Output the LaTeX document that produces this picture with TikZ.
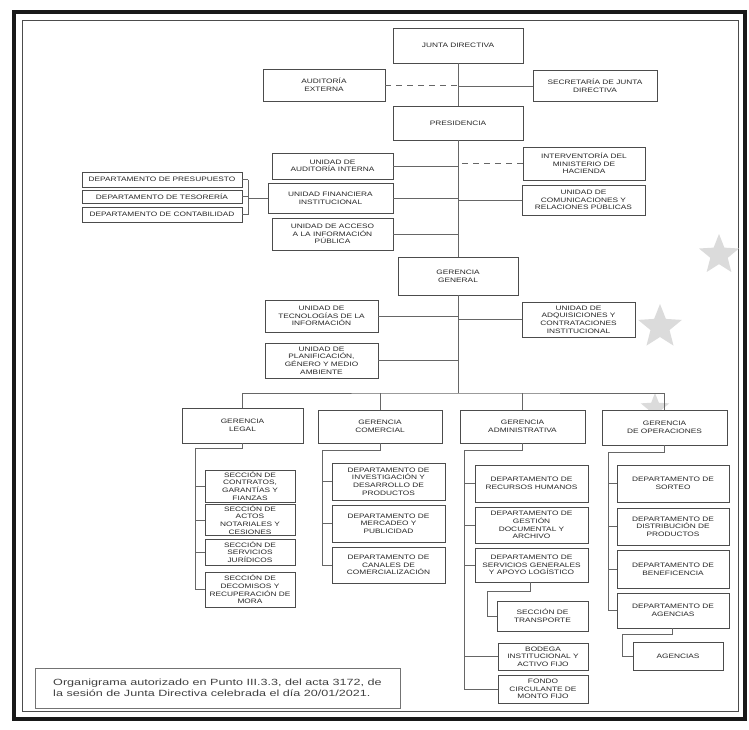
\documentclass[tikz,border=0pt]{standalone}
\usepackage{fontspec}
\newfontfamily\boxfont[FakeStretch=1.3]{Liberation Sans}
\newfontfamily\notefont[FakeStretch=1.4]{Liberation Sans}
\usetikzlibrary{shapes.geometric}
\tikzset{
  box/.style={draw=black!70, line width=0.8pt, fill=white, inner sep=1pt, align=center,
    text=black!85, font=\boxfont\fontsize{6.4}{7.6}\selectfont},
  conn/.style={draw=black!60, line width=0.8pt},
  dashconn/.style={conn, dash pattern=on 6pt off 5pt},
  deco/.style={star, star points=5, star point ratio=2.3, fill=black!14, draw=none, inner sep=0pt},
}
\begin{document}
\begin{tikzpicture}[x=1pt,y=-1pt]
\useasboundingbox (0,0) rectangle (749,729);
\fill[white] (0,0) rectangle (749,729);
% frame
\draw[line width=4pt, black!90] (14,12) rectangle (745,719);
\draw[line width=0.9pt, black!70] (22,20) rectangle (738,711);
% decorative stars
\node[deco, minimum size=42pt] (star1) at (719,255) {};
\node[deco, minimum size=46pt] (star2) at (660,327) {};
\node[deco, minimum size=30pt] (star3) at (655,408) {};

% level boxes
\node[box, minimum width=130, minimum height=35] (jd) at (458,45.5) {JUNTA DIRECTIVA};
\node[box, minimum width=122, minimum height=32] (ae) at (324,85) {AUDITORÍA\\EXTERNA};
\node[box, minimum width=124, minimum height=31] (sjd) at (595,86) {SECRETARÍA DE JUNTA\\DIRECTIVA};
\node[box, minimum width=130, minimum height=34] (pres) at (458,123) {PRESIDENCIA};
\node[box, minimum width=121, minimum height=26] (uai) at (332.5,166) {UNIDAD DE\\AUDITORÍA INTERNA};
\node[box, minimum width=125, minimum height=30] (ufi) at (330.5,198) {UNIDAD FINANCIERA\\INSTITUCIONAL};
\node[box, minimum width=121, minimum height=32] (uaip) at (332.5,234) {UNIDAD DE ACCESO\\A LA INFORMACIÓN\\PÚBLICA};
\node[box, minimum width=122, minimum height=33] (imh) at (584,163.5) {INTERVENTORÍA DEL\\MINISTERIO DE\\HACIENDA};
\node[box, minimum width=123, minimum height=30] (ucrp) at (583.5,200) {UNIDAD DE\\COMUNICACIONES Y\\RELACIONES PÚBLICAS};
\node[box, minimum width=160, minimum height=15] (dpre) at (162,179.5) {DEPARTAMENTO DE PRESUPUESTO};
\node[box, minimum width=160, minimum height=13] (dtes) at (162,196.5) {DEPARTAMENTO DE TESORERÍA};
\node[box, minimum width=160, minimum height=15] (dcon) at (162,214.5) {DEPARTAMENTO DE CONTABILIDAD};
\node[box, minimum width=120, minimum height=38] (gg) at (458,276) {GERENCIA\\GENERAL};
\node[box, minimum width=113, minimum height=32] (uti) at (321.5,316) {UNIDAD DE\\TECNOLOGÍAS DE LA\\INFORMACIÓN};
\node[box, minimum width=113, minimum height=35] (upg) at (321.5,360.5) {UNIDAD DE\\PLANIFICACIÓN,\\GÉNERO Y MEDIO\\AMBIENTE};
\node[box, minimum width=113, minimum height=35] (uaci) at (578.5,319.5) {UNIDAD DE\\ADQUISICIONES Y\\CONTRATACIONES\\INSTITUCIONAL};

% gerencias
\node[box, minimum width=121, minimum height=35] (gl) at (242.5,425.5) {GERENCIA\\LEGAL};
\node[box, minimum width=124, minimum height=33] (gc) at (380,426.5) {GERENCIA\\COMERCIAL};
\node[box, minimum width=125, minimum height=33] (ga) at (522.5,426.5) {GERENCIA\\ADMINISTRATIVA};
\node[box, minimum width=125, minimum height=35] (go) at (664.5,427.5) {GERENCIA\\DE OPERACIONES};

% legal
\node[box, minimum width=90, minimum height=32] (l1) at (250,486) {SECCIÓN DE\\CONTRATOS,\\GARANTÍAS Y\\FIANZAS};
\node[box, minimum width=90, minimum height=30] (l2) at (250,520) {SECCIÓN DE\\ACTOS\\NOTARIALES Y\\CESIONES};
\node[box, minimum width=90, minimum height=26] (l3) at (250,552) {SECCIÓN DE\\SERVICIOS\\JURÍDICOS};
\node[box, minimum width=90, minimum height=35] (l4) at (250,589.5) {SECCIÓN DE\\DECOMISOS Y\\RECUPERACIÓN DE\\MORA};
% comercial
\node[box, minimum width=113, minimum height=37] (c1) at (388.5,481.5) {DEPARTAMENTO DE\\INVESTIGACIÓN Y\\DESARROLLO DE\\PRODUCTOS};
\node[box, minimum width=113, minimum height=37] (c2) at (388.5,523.5) {DEPARTAMENTO DE\\MERCADEO Y\\PUBLICIDAD};
\node[box, minimum width=113, minimum height=36] (c3) at (388.5,565) {DEPARTAMENTO DE\\CANALES DE\\COMERCIALIZACIÓN};
% administrativa
\node[box, minimum width=113, minimum height=37] (a1) at (531.5,483.5) {DEPARTAMENTO DE\\RECURSOS HUMANOS};
\node[box, minimum width=113, minimum height=36] (a2) at (531.5,525) {DEPARTAMENTO DE\\GESTIÓN\\DOCUMENTAL Y\\ARCHIVO};
\node[box, minimum width=113, minimum height=34] (a3) at (531.5,565) {DEPARTAMENTO DE\\SERVICIOS GENERALES\\Y APOYO LOGÍSTICO};
\node[box, minimum width=91, minimum height=30] (a4) at (542.5,616) {SECCIÓN DE\\TRANSPORTE};
\node[box, minimum width=90, minimum height=27] (a5) at (543,656.5) {BODEGA\\INSTITUCIONAL Y\\ACTIVO FIJO};
\node[box, minimum width=90, minimum height=28] (a6) at (543,689) {FONDO\\CIRCULANTE DE\\MONTO FIJO};
% operaciones
\node[box, minimum width=112, minimum height=37] (o1) at (673,483.5) {DEPARTAMENTO DE\\SORTEO};
\node[box, minimum width=112, minimum height=37] (o2) at (673,526.5) {DEPARTAMENTO DE\\DISTRIBUCIÓN DE\\PRODUCTOS};
\node[box, minimum width=112, minimum height=38] (o3) at (673,569) {DEPARTAMENTO DE\\BENEFICENCIA};
\node[box, minimum width=112, minimum height=35] (o4) at (673,610.5) {DEPARTAMENTO DE\\AGENCIAS};
\node[box, minimum width=90, minimum height=28] (o5) at (678,656) {AGENCIAS};

% note
\node[draw=black!55, line width=0.6pt, minimum width=365, minimum height=40, align=left,
  text=black!75, font=\notefont\fontsize{9}{11}\selectfont, inner xsep=8pt] (note) at (217.5,688)
  {Organigrama autorizado en Punto III.3.3, del acta 3172, de\\la sesión de Junta Directiva celebrada el día 20/01/2021.};

% coordinates
\coordinate (bus) at (458,393);
\coordinate (db) at (248,197);
\coordinate (ls) at (195,448);
\coordinate (cs) at (322,450);
\coordinate (as) at (464,450);
\coordinate (os) at (608,452);
\coordinate (t1) at (530,591);
\coordinate (t2) at (487,591);
\coordinate (g1) at (672,634);
\coordinate (g2) at (622,634);

% trunk
\draw[conn] (jd.south) -- (pres.north);
\draw[conn] (pres.south) -- (gg.north);
\draw[conn] (gg.south) -- (bus);
\draw[dashconn] (ae.east) -- (ae.east -| jd.south);
\draw[conn] (sjd.west) -- (sjd.west -| jd.south);
\draw[conn] (uai.east) -- (uai.east -| pres.south);
\draw[dashconn] (imh.west) -- (imh.west -| pres.south);
\draw[conn] (ufi.east) -- (ufi.east -| pres.south);
\draw[conn] (ucrp.west) -- (ucrp.west -| pres.south);
\draw[conn] (uaip.east) -- (uaip.east -| pres.south);
\draw[conn] (uti.east) -- (uti.east -| gg.south);
\draw[conn] (uaci.west) -- (uaci.west -| gg.south);
\draw[conn] (upg.east) -- (upg.east -| gg.south);
% departments bracket
\draw[conn] (db |- dpre.east) -- (db |- dcon.east);
\draw[conn] (dpre.east) -- (db |- dpre.east);
\draw[conn] (dtes.east) -- (db |- dtes.east);
\draw[conn] (dcon.east) -- (db |- dcon.east);
\draw[conn] (ufi.west) -- (ufi.west -| db);
% bus
\draw[conn] (gl.north) |- (bus) -| (go.north);
\draw[conn] (gc.north) -- (gc.north |- bus);
\draw[conn] (ga.north) -- (ga.north |- bus);
% legal
\draw[conn] (gl.south) |- (ls) -- (ls |- l4.west);
\foreach \n in {l1,l2,l3,l4} \draw[conn] (ls |- \n.west) -- (\n.west);
% comercial
\draw[conn] (gc.south) |- (cs) -- (cs |- c3.west);
\foreach \n in {c1,c2,c3} \draw[conn] (cs |- \n.west) -- (\n.west);
% administrativa
\draw[conn] (ga.south) |- (as) -- (as |- a6.west);
\foreach \n in {a1,a2,a3,a5,a6} \draw[conn] (as |- \n.west) -- (\n.west);
\draw[conn] (t1 |- a3.south) -- (t1) -- (t2) |- (a4.west);
% operaciones
\draw[conn] (go.south) |- (os) -- (os |- o4.west);
\foreach \n in {o1,o2,o3,o4} \draw[conn] (os |- \n.west) -- (\n.west);
\draw[conn] (g1 |- o4.south) -- (g1) -- (g2) |- (o5.west);
\end{tikzpicture}
\end{document}
